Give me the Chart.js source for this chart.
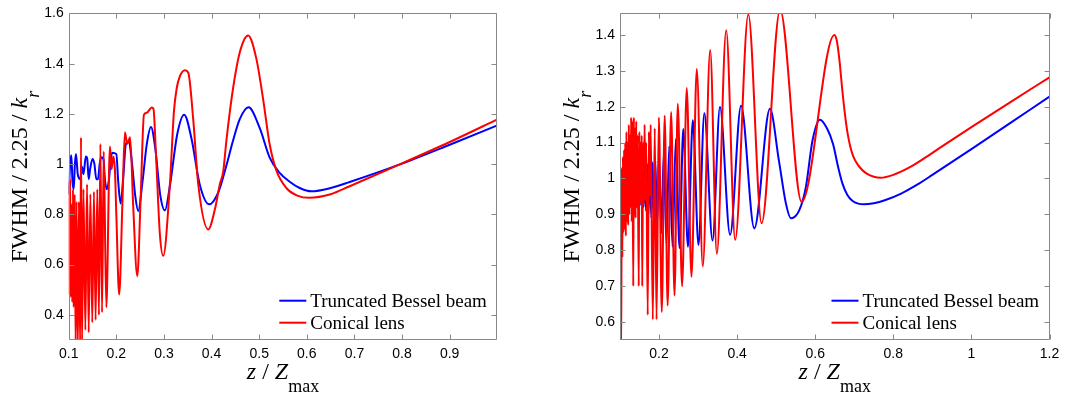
<!DOCTYPE html>
<html>
<head>
<meta charset="utf-8">
<title>FWHM along z</title>
<script src="https://cdn.jsdelivr.net/npm/chart.js@4.4.1/dist/chart.umd.min.js"></script>
<style>
  html, body { margin: 0; padding: 0; background: #fff; }
  #wrap { position: relative; width: 1067px; height: 396px; }
  #wrap canvas { position: absolute; top: 0; }
</style>
</head>
<body>
<div id="wrap">
  <canvas id="fwhmLeft" width="533" height="396" style="left:0"></canvas>
  <canvas id="fwhmRight" width="534" height="396" style="left:533px"></canvas>
</div>
<script>
// [z / Zmax, FWHM / 2.25 / kr] for each curve

const besselLeft = [
  [0.100, 0.88], [0.103, 1.00], [0.1055, 1.035], [0.108, 0.93], [0.1105, 0.90],
  [0.113, 1.00], [0.1153, 1.04], [0.119, 0.96], [0.124, 0.94], [0.128, 0.99],
  [0.131, 0.96], [0.136, 1.03], [0.139, 1.02], [0.142, 0.94], [0.145, 0.98],
  [0.150, 1.02], [0.154, 1.00], [0.158, 0.94], [0.1615, 0.94], [0.165, 1.00],
  [0.1684, 1.027], [0.173, 1.02], [0.176, 0.94], [0.180, 0.90], [0.184, 0.93],
  [0.187, 0.99], [0.191, 1.045], [0.200, 1.04], [0.204, 0.93], [0.209, 0.843],
  [0.215, 0.96], [0.220, 1.08], [0.2265, 1.09], [0.232, 1.02], [0.240, 0.87],
  [0.246, 0.813], [0.255, 0.93], [0.264, 1.08], [0.2727, 1.148], [0.282, 1.06],
  [0.292, 0.88], [0.302, 0.816], [0.313, 0.92], [0.328, 1.12], [0.3425, 1.197],
  [0.358, 1.10], [0.375, 0.92], [0.395, 0.84], [0.415, 0.892], [0.4315, 0.997],
  [0.445, 1.093], [0.459, 1.178], [0.4776, 1.226], [0.501, 1.144], [0.522, 1.026],
  [0.543, 0.965], [0.564, 0.930], [0.585, 0.905], [0.610, 0.892], [0.650, 0.905],
  [0.690, 0.929], [0.794, 0.998], [0.900, 1.077], [1.000, 1.154]
];

const lensLeft = [
  [0.1000, 0.93], [0.1010, 0.48], [0.1030, 0.94], [0.1045, 0.47], [0.1060, 0.84],
  [0.1075, 0.45], [0.1090, 0.90], [0.1105, 0.43], [0.1125, 0.88], [0.1145, 0.28],
  [0.1165, 0.85], [0.1190, 0.26], [0.1215, 0.85], [0.1240, 0.27], [0.1258, 1.107],
  [0.1280, 0.28], [0.1310, 0.90], [0.1350, 0.34], [0.1385, 0.92], [0.1420, 0.33],
  [0.1455, 0.88], [0.1495, 0.37], [0.1530, 0.89], [0.1565, 0.38], [0.1600, 0.90],
  [0.1635, 0.40], [0.1665, 1.08], [0.1700, 0.41], [0.1735, 1.05], [0.1790, 0.43],
  [0.1866, 1.07], [0.1900, 0.98], [0.1935, 1.03], [0.1970, 0.98], [0.2000, 0.80],
  [0.2060, 0.481], [0.2130, 0.86], [0.2180, 1.127], [0.2230, 1.081], [0.2290, 1.107],
  [0.2355, 0.83], [0.2440, 0.554], [0.2510, 0.86], [0.2580, 1.197], [0.2640, 1.205],
  [0.2745, 1.225], [0.2780, 1.22], [0.2830, 1.05], [0.2915, 0.72], [0.2985, 0.635],
  [0.3125, 0.92], [0.3210, 1.21], [0.3266, 1.30], [0.3335, 1.35], [0.3440, 1.374],
  [0.3510, 1.365], [0.3614, 1.18], [0.3720, 0.92], [0.3930, 0.74], [0.4070, 0.82],
  [0.4174, 0.92], [0.4244, 0.97], [0.4315, 1.10], [0.4450, 1.30], [0.4600, 1.45],
  [0.4768, 1.512], [0.4940, 1.42], [0.5080, 1.262], [0.5220, 1.079], [0.5360, 0.975],
  [0.5570, 0.905], [0.5800, 0.875], [0.6050, 0.866], [0.6500, 0.88], [0.6900, 0.912],
  [0.7940, 0.998], [0.9000, 1.088], [1.0000, 1.178]
];

const besselRight = [
  [0.100, 1.00], [0.101, 0.975], [0.103, 1.01], [0.105, 0.97], [0.107, 1.015],
  [0.109, 0.965], [0.111, 1.015], [0.113, 0.96], [0.115, 1.02], [0.1175, 0.96],
  [0.120, 1.02], [0.122, 0.955], [0.1245, 1.02], [0.127, 0.95], [0.1295, 1.025],
  [0.132, 0.945], [0.1345, 1.025], [0.137, 0.94], [0.1395, 1.03], [0.142, 0.935],
  [0.145, 1.03], [0.148, 0.93], [0.151, 1.03], [0.154, 0.925], [0.157, 1.035],
  [0.1605, 0.92], [0.1635, 1.035], [0.1665, 0.91], [0.170, 1.04], [0.173, 0.90],
  [0.1765, 1.04], [0.180, 0.89], [0.1835, 1.045], [0.187, 0.88], [0.1905, 1.05],
  [0.195, 0.87], [0.200, 1.058], [0.206, 0.848], [0.212, 1.07], [0.219, 0.818],
  [0.226, 1.09], [0.2345, 0.81], [0.243, 1.11], [0.2525, 0.806], [0.262, 1.138],
  [0.274, 0.81], [0.2865, 1.162], [0.301, 0.815], [0.316, 1.182], [0.337, 0.827],
  [0.356, 1.199], [0.382, 0.843], [0.410, 1.203], [0.444, 0.861], [0.484, 1.194],
  [0.507, 1.05], [0.525, 0.93], [0.538, 0.889], [0.559, 0.911], [0.576, 0.976],
  [0.593, 1.106], [0.612, 1.164], [0.630, 1.14], [0.646, 1.095], [0.658, 1.035],
  [0.670, 0.985], [0.682, 0.955], [0.695, 0.938], [0.710, 0.930], [0.725, 0.928],
  [0.750, 0.931], [0.780, 0.940], [0.820, 0.958], [0.860, 0.982], [0.900, 1.010],
  [1.000, 1.082], [1.100, 1.155], [1.200, 1.228]
];

const lensRight = [
  [0.1000, 1.05], [0.1010, 0.78], [0.1030, 0.50], [0.1045, 1.03], [0.1060, 0.78],
  [0.1075, 1.06], [0.1090, 0.85], [0.1105, 1.08], [0.1120, 0.86], [0.1135, 1.10],
  [0.1150, 0.84], [0.1165, 1.13], [0.1180, 0.88], [0.1195, 1.10], [0.1210, 0.87],
  [0.1225, 1.15], [0.1240, 0.90], [0.1255, 1.12], [0.1270, 0.92], [0.1285, 1.17],
  [0.1300, 0.88], [0.1315, 1.16], [0.1340, 0.70], [0.1355, 1.17], [0.1370, 0.90],
  [0.1385, 1.14], [0.1400, 0.89], [0.1415, 1.16], [0.1430, 0.92], [0.1450, 1.12],
  [0.1480, 0.70], [0.1495, 1.13], [0.1510, 0.94], [0.1525, 1.10], [0.1540, 0.93],
  [0.1555, 1.12], [0.1570, 0.70], [0.1590, 1.10], [0.1610, 0.93], [0.1630, 1.15],
  [0.1650, 0.94], [0.1670, 1.10], [0.1710, 0.62], [0.1740, 1.13], [0.1760, 0.95],
  [0.1785, 1.15], [0.1840, 0.607], [0.1890, 1.14], [0.1935, 0.607], [0.1995, 1.17],
  [0.2070, 0.628], [0.2145, 1.175], [0.2220, 0.646], [0.2310, 1.185], [0.2396, 0.674],
  [0.2480, 1.208], [0.2590, 0.700], [0.2710, 1.252], [0.2830, 0.726], [0.2966, 1.305],
  [0.3120, 0.755], [0.3310, 1.358], [0.3480, 0.790], [0.3720, 1.413], [0.3950, 0.829],
  [0.4286, 1.457], [0.4626, 0.875], [0.5100, 1.47], [0.5650, 0.935], [0.6490, 1.40],
  [0.6550, 1.385], [0.6620, 1.33], [0.6690, 1.25], [0.6760, 1.18], [0.6830, 1.125],
  [0.6900, 1.088], [0.6970, 1.063], [0.7050, 1.045], [0.7150, 1.03], [0.7300, 1.015],
  [0.7500, 1.005], [0.7675, 1.002], [0.8000, 1.010], [0.8400, 1.030], [0.8800, 1.057],
  [0.9200, 1.086], [1.0000, 1.143], [1.1000, 1.213], [1.2000, 1.282]
];

const seriesNames = ["Truncated Bessel beam", "Conical lens"];

const leftXTicks = [0.1, 0.2, 0.3, 0.4, 0.5, 0.6, 0.7, 0.8, 0.9];
const leftYTicks = [0.4, 0.6, 0.8, 1.0, 1.2, 1.4, 1.6];
const rightXTicks = [0.2, 0.4, 0.6, 0.8, 1.0, 1.2];
const rightYTicks = [0.6, 0.7, 0.8, 0.9, 1.0, 1.1, 1.2, 1.3, 1.4];

const SERIF = '"Liberation Serif", "Times New Roman", serif';
const SANS = '"Liberation Sans", Arial, sans-serif';

// draws a run of text pieces, each with its own font and baseline shift
function drawRun(ctx, pieces, x, y) {
  let cx = x;
  pieces.forEach((p) => {
    ctx.font = p.font;
    ctx.fillText(p.text, cx, y + (p.dy || 0));
    cx += ctx.measureText(p.text).width;
  });
}

function runWidth(ctx, pieces) {
  let w = 0;
  pieces.forEach((p) => {
    ctx.font = p.font;
    w += ctx.measureText(p.text).width;
  });
  return w;
}

// MATLAB-ish box with inward ticks, axis titles and the legend
const axesDecor = {
  id: "axesDecor",
  afterDatasetsDraw(chart) {
    const { ctx, chartArea: a } = chart;
    const xs = chart.scales.x;
    const ys = chart.scales.y;
    const L = Math.round(a.left) + 0.5;
    const R = Math.round(a.right) - 0.5;
    const T = Math.round(a.top) + 0.5;
    const B = Math.round(a.bottom) - 0.5;

    ctx.save();
    ctx.strokeStyle = "#888";
    ctx.lineWidth = 1;
    ctx.beginPath();
    xs.ticks.forEach((t) => {
      const px = Math.round(xs.getPixelForValue(t.value)) + 0.5;
      ctx.moveTo(px, B); ctx.lineTo(px, B - 5);
      ctx.moveTo(px, T); ctx.lineTo(px, T + 5);
    });
    ys.ticks.forEach((t) => {
      const py = Math.round(ys.getPixelForValue(t.value)) + 0.5;
      ctx.moveTo(L, py); ctx.lineTo(L + 5, py);
      ctx.moveTo(R, py); ctx.lineTo(R - 5, py);
    });
    ctx.rect(L, T, R - L, B - T);
    ctx.stroke();

    // axis titles
    ctx.fillStyle = "#000";
    ctx.textBaseline = "alphabetic";
    ctx.textAlign = "left";
    const xTitle = [
      { text: "z", font: "italic 24px " + SERIF },
      { text: " / ", font: "24px " + SERIF },
      { text: "Z", font: "italic 24px " + SERIF },
      { text: "max", font: "18px " + SERIF, dy: 12.5 }
    ];
    const xw = runWidth(ctx, xTitle);
    drawRun(ctx, xTitle, (a.left + a.right) / 2 - xw / 2, a.bottom + 39);

    const yTitle = [
      { text: "FWHM / 2.25 / ", font: "24px " + SERIF },
      { text: "k", font: "italic 24px " + SERIF },
      { text: "r", font: "italic 18px " + SERIF, dy: 12 }
    ];
    const yw = runWidth(ctx, yTitle);
    ctx.save();
    ctx.translate(a.left - 41.4, (a.top + a.bottom) / 2 + yw / 2);
    ctx.rotate(-Math.PI / 2);
    drawRun(ctx, yTitle, 0, 0);
    ctx.restore();

    // legend, bottom right inside the axes
    const order = [1, 0];
    const x0 = a.right - 218;
    order.forEach((di, k) => {
      const ds = chart.data.datasets[di];
      const ly = a.bottom - 39.3 + k * 22;
      ctx.strokeStyle = ds.borderColor;
      ctx.lineWidth = 2;
      ctx.beginPath();
      ctx.moveTo(x0, ly);
      ctx.lineTo(x0 + 27, ly);
      ctx.stroke();
      ctx.fillStyle = "#000";
      ctx.font = "19px " + SERIF;
      ctx.fillText(ds.label, x0 + 31, ly + 6.5);
    });
    ctx.restore();
  }
};

function toPoints(rows) {
  return rows.map((r) => ({ x: r[0], y: r[1] }));
}

function makePanel(id, cfg) {
  const fmt = (v) => String(Number(v.toFixed(2)));
  return new Chart(document.getElementById(id), {
    type: "line",
    data: {
      datasets: [
        {
          label: seriesNames[1],
          data: toPoints(cfg.lens),
          borderColor: "#ff0000",
          order: 0
        },
        {
          label: seriesNames[0],
          data: toPoints(cfg.bessel),
          borderColor: "#0000ff",
          order: 1
        }
      ]
    },
    options: {
      responsive: false,
      animation: false,
      devicePixelRatio: 1,
      layout: { padding: { left: 0, right: cfg.padRight, top: cfg.padTop, bottom: 0 } },
      elements: {
        point: { radius: 0 },
        line: { borderWidth: 2, cubicInterpolationMode: "monotone", fill: false }
      },
      datasets: { line: { clip: 0 } },
      plugins: { legend: { display: false }, tooltip: { enabled: false } },
      scales: {
        x: {
          type: "linear",
          min: cfg.xMin,
          max: cfg.xMax,
          afterBuildTicks: (s) => { s.ticks = cfg.xTicks.map((v) => ({ value: v })); },
          afterFit: (s) => { s.height = 56; },
          grid: { display: false, drawTicks: false },
          border: { display: false },
          ticks: {
            padding: 6,
            color: "#000",
            font: { family: SANS, size: 14 },
            maxRotation: 0,
            autoSkip: false,
            callback: fmt
          }
        },
        y: {
          type: "linear",
          min: cfg.yMin,
          max: cfg.yMax,
          afterBuildTicks: (s) => { s.ticks = cfg.yTicks.map((v) => ({ value: v })); },
          afterFit: (s) => { s.width = cfg.yWidth; },
          grid: { display: false, drawTicks: false },
          border: { display: false },
          ticks: {
            padding: 5,
            color: "#000",
            font: { family: SANS, size: 14 },
            autoSkip: false,
            callback: fmt
          }
        }
      }
    },
    plugins: [axesDecor]
  });
}

makePanel("fwhmLeft", {
  bessel: besselLeft, lens: lensLeft,
  xMin: 0.1, xMax: 1.0, yMin: 0.3, yMax: 1.6,
  xTicks: leftXTicks, yTicks: leftYTicks,
  yWidth: 68.7, padRight: 35.7, padTop: 11
});

makePanel("fwhmRight", {
  bessel: besselRight, lens: lensRight,
  xMin: 0.1, xMax: 1.2, yMin: 0.55, yMax: 1.46,
  xTicks: rightXTicks, yTicks: rightYTicks,
  yWidth: 87, padRight: 17.5, padTop: 12
});
</script>
</body>
</html>
